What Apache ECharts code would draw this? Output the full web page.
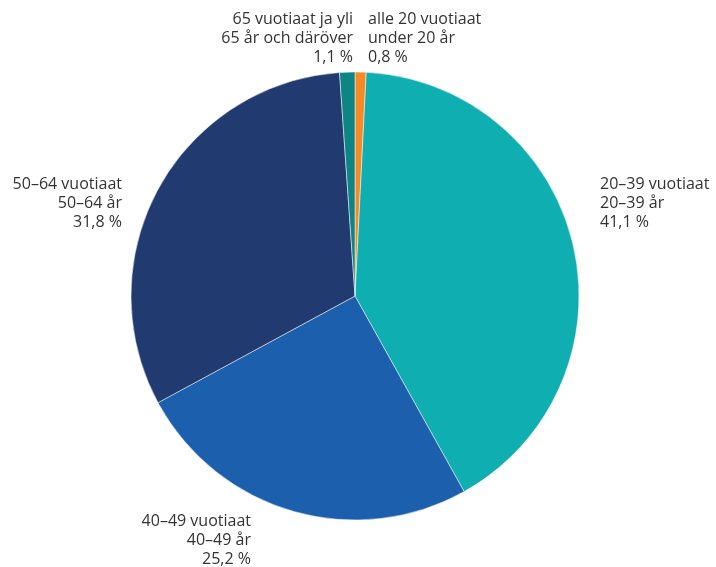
<!DOCTYPE html>
<html>
<head>
<meta charset="utf-8">
<script src="https://cdn.jsdelivr.net/npm/echarts@6/dist/echarts.min.js"></script>
<style>
html,body{margin:0;padding:0;background:#fff;}
#chart{width:716px;height:567px;}
</style>
</head>
<body>
<div id="chart"></div>
<script>
const namesFi = ['alle 20 vuotiaat', '20–39 vuotiaat', '40–49 vuotiaat', '50–64 vuotiaat', '65 vuotiaat ja yli'];
const namesSv = ['under 20 år', '20–39 år', '40–49 år', '50–64 år', '65 år och däröver'];
const values = [0.8, 41.1, 25.2, 31.8, 1.1];

const colors = ['#f68b25', '#0fafb1', '#1b5fad', '#213a6f', '#0c8584'];
const labelPos = [
  {x: 368, y: 38, align: 'left'},
  {x: 600, y: 203, align: 'left'},
  {x: 251, y: 540, align: 'right'},
  {x: 122, y: 203, align: 'right'},
  {x: 353, y: 38, align: 'right'}
];

const chart = echarts.init(document.getElementById('chart'), null, {renderer: 'canvas'});
chart.setOption({
  animation: false,
  series: [{
    type: 'pie',
    center: [355, 296],
    radius: 224,
    startAngle: 90,
    clockwise: true,
    itemStyle: {borderColor: '#fff', borderWidth: 0.5},
    label: {
      show: true,
      position: 'outside',
      fontFamily: 'Open Sans',
      fontSize: 16,
      lineHeight: 19,
      color: '#333',
      overflow: 'none',
      formatter: p => namesFi[p.dataIndex] + '\n' + namesSv[p.dataIndex] + '\n' + String(values[p.dataIndex]).replace('.', ',') + ' %'
    },
    labelLine: {show: false},
    labelLayout: p => ({
      x: labelPos[p.dataIndex].x,
      y: labelPos[p.dataIndex].y,
      align: labelPos[p.dataIndex].align,
      verticalAlign: 'middle'
    }),
    emphasis: {disabled: true},
    data: values.map((v, i) => ({
      value: v,
      name: namesFi[i],
      itemStyle: {color: colors[i]},
      label: {align: labelPos[i].align}
    }))
  }]
});
</script>
</body>
</html>
